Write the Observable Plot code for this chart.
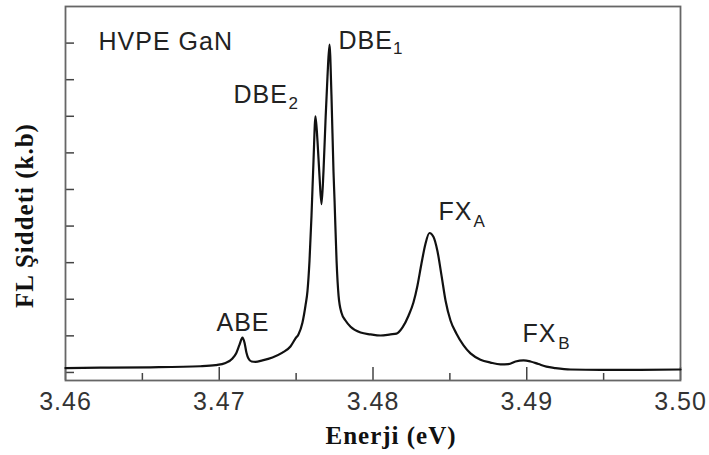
<!DOCTYPE html>
<html><head><meta charset="utf-8">
<script src="https://cdn.jsdelivr.net/npm/d3@7"></script>
<script src="https://cdn.jsdelivr.net/npm/@observablehq/plot@0.6"></script>
<style>body{margin:0;background:#fff;} svg text{letter-spacing:1px;}</style>
</head><body><div id="chart"></div>
<script>
// Photoluminescence spectrum of HVPE GaN
const energy = [3.46000,3.46228,3.46553,3.46878,3.46976,3.47041,3.47086,3.47112,3.47132,3.47151,3.47164,3.47177,3.47190,3.47210,3.47236,3.47281,3.47346,3.47411,3.47463,3.47496,3.47515,3.47541,3.47561,3.47574,3.47587,3.47600,3.47613,3.47626,3.47639,3.47652,3.47665,3.47678,3.47691,3.47704,3.47717,3.47730,3.47743,3.47750,3.47763,3.47776,3.47795,3.47821,3.47854,3.47919,3.47984,3.48049,3.48114,3.48153,3.48192,3.48231,3.48263,3.48289,3.48315,3.48341,3.48367,3.48393,3.48419,3.48446,3.48472,3.48504,3.48543,3.48589,3.48634,3.48699,3.48764,3.48829,3.48881,3.48927,3.48979,3.49024,3.49076,3.49128,3.49187,3.49285,3.49480,3.49740,3.50000];
const intensity = [0.12,0.13,0.14,0.17,0.20,0.26,0.38,0.54,0.76,0.95,0.82,0.54,0.38,0.30,0.29,0.33,0.41,0.54,0.71,0.93,1.04,1.36,1.83,2.23,3.05,4.28,5.78,7.00,6.32,5.37,4.60,5.50,6.87,8.09,8.96,7.55,5.50,4.69,3.05,2.10,1.63,1.42,1.25,1.09,1.04,1.01,1.04,1.06,1.23,1.55,1.91,2.37,2.97,3.51,3.81,3.71,3.32,2.64,1.96,1.42,1.06,0.74,0.52,0.35,0.27,0.22,0.23,0.30,0.33,0.30,0.23,0.16,0.12,0.08,0.07,0.07,0.08];

const majorTicks = [3.46, 3.47, 3.48, 3.49, 3.50];
const minorTicks = [3.465, 3.475, 3.485, 3.495];
const yTicks = [0, 1, 2, 3, 4, 5, 6, 7, 8, 9];

const labelText = ["HVPE GaN", "ABE", "DBE", "DBE", "FX", "FX"];
const labelX = [3.46215, 3.46982, 3.47093, 3.47776, 3.48426, 3.48972];
const labelY = [8.80, 1.14, 7.36, 8.83, 4.17, 0.82];
const subText = ["2", "1", "A", "B"];
const subX = [3.47450, 3.48130, 3.48654, 3.49205];
const subY = [7.19, 8.69, 3.98, 0.63];

const xTitle = "Enerji (eV)";
const yTitle = "FL Şiddeti (k.b)";

const spectrum = energy.map((e, i) => ({e, v: intensity[i]}));
const labels = labelText.map((t, i) => ({t, x: labelX[i], y: labelY[i]}));
const subs = subText.map((t, i) => ({t, x: subX[i], y: subY[i]}));

const sans = "Liberation Sans, Arial, sans-serif";
const serif = "Liberation Serif, Times New Roman, serif";

const chart = Plot.plot({
  width: 709,
  height: 455,
  marginLeft: 65,
  marginRight: 29,
  marginTop: 6,
  marginBottom: 75,
  style: {fontFamily: sans, background: "#fff"},
  x: {domain: [3.46, 3.50]},
  y: {domain: [-0.22, 10]},
  marks: [
    Plot.axisX(majorTicks, {tickSize: 0, tickPadding: 12, fontSize: 25, fill: "#333", tickFormat: d3.format(".2f"), label: null}),
    Plot.axisY({ticks: [], label: null, tickSize: 0}),
    Plot.tickX(majorTicks, {x: d => d, stroke: "#444", strokeWidth: 1.5, insetTop: 361}),
    Plot.tickX(minorTicks, {x: d => d, stroke: "#444", strokeWidth: 1.5, insetTop: 367}),
    Plot.tickY(yTicks, {y: d => d, stroke: "#444", strokeWidth: 1.5, insetRight: 606}),
    Plot.frame({stroke: "#666", strokeWidth: 1.8}),
    Plot.line(spectrum, {x: "e", y: "v", curve: "monotone-x", stroke: "#111", strokeWidth: 2.2}),
    Plot.text(labels, {x: "x", y: "y", text: "t", textAnchor: "start", lineAnchor: "bottom", fontSize: 25, fill: "#222", fontFamily: sans}),
    Plot.text(subs, {x: "x", y: "y", text: "t", textAnchor: "start", lineAnchor: "bottom", fontSize: 17, fill: "#222", fontFamily: sans}),
    Plot.text([xTitle], {text: d => d, frameAnchor: "bottom", textAnchor: "middle", lineAnchor: "bottom", dx: 18, dy: 63, fontSize: 25, fontWeight: "bold", fontFamily: serif, fill: "#111"}),
    Plot.text([yTitle], {text: d => d, frameAnchor: "left", textAnchor: "middle", rotate: -90, dx: -41, dy: 22, fontSize: 25, fontWeight: "bold", fontFamily: serif, fill: "#111"})
  ]
});
document.getElementById("chart").append(chart);
</script>
</body></html>
